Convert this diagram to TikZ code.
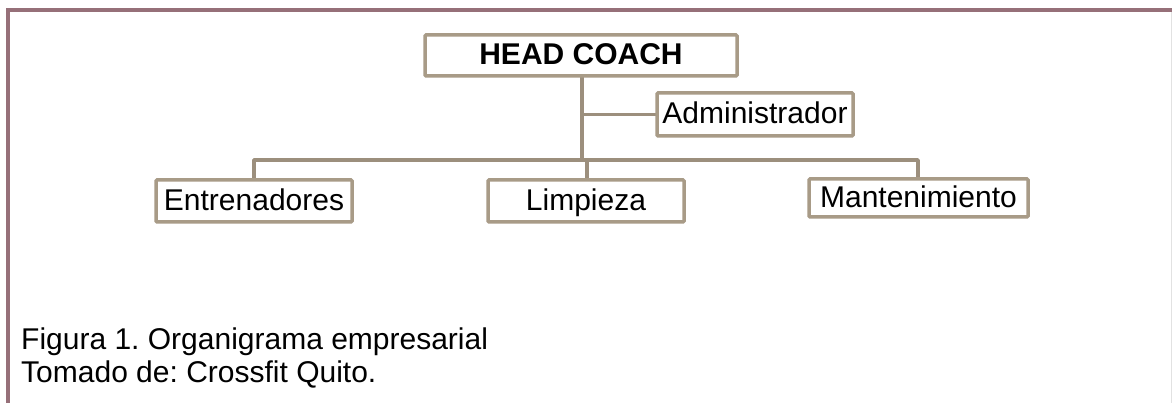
\documentclass[tikz,border=0pt]{standalone}
\usepackage{fontspec}
\setmainfont{Liberation Sans}
\definecolor{framec}{HTML}{967079}
\definecolor{boxc}{HTML}{A89B87}
\definecolor{linec}{HTML}{9C8F7D}
\definecolor{edgec}{HTML}{E2E2E2}
\tikzset{
  orgbox/.style={draw=boxc, line width=3.5pt, fill=white, inner sep=0pt, rounded corners=1pt,
    font=\fontsize{30}{35}\selectfont\frenchspacing, text=black, text height=23.5pt, text depth=4.5pt},
  conn/.style={draw=linec, line width=3.5pt},
  captext/.style={inner sep=0pt, anchor=base west, font=\fontsize{30}{33}\selectfont\frenchspacing, text=black}
}
\begin{document}
\begin{tikzpicture}[x=1pt,y=-1pt]
\useasboundingbox (0,0) rectangle (1172,403);
\fill[white] (0,0) rectangle (1172,403);
% frame
\draw[edgec, line width=1pt] (1171,10) -- (1171,403);
\fill[framec] (6,8) rectangle (1172,12);
\fill[framec] (6,8) rectangle (10,403);
% connector points
\coordinate (hub) at (582,160);
\coordinate (adm) at (582,114.5);
\coordinate (hl) at (254,160);
\coordinate (hr) at (918,160);
\coordinate (hm) at (587,160);
% connectors (drawn first, boxes on top)
\draw[conn] (582,76) -- (hub);
\draw[conn] (adm) -- (657,114.5);
\draw[conn, line join=round] (254,180) -- (hl) -- (hr) -- (918,179);
\draw[conn] (hm) -- (587,180);
% nodes
\node[orgbox, minimum width=312pt, minimum height=41pt] (head) at (581,55.5) {\textbf{HEAD COACH}};
\node[orgbox, minimum width=196pt, minimum height=43pt] (admin) at (755,114.5) {Administrador};
\node[orgbox, minimum width=196pt, minimum height=42pt] (entr) at (254,201) {Entrenadores};
\node[orgbox, minimum width=196pt, minimum height=42pt] (limp) at (586,201) {Limpieza};
\node[orgbox, minimum width=219pt, minimum height=38pt] (mant) at (918.5,198) {Mantenimiento};
% caption
\node[captext] (cap1) at (21,349) {Figura 1. Organigrama empresarial};
\node[captext] (cap2) at (21,382) {Tomado de: Crossfit Quito.};
\end{tikzpicture}
\end{document}
